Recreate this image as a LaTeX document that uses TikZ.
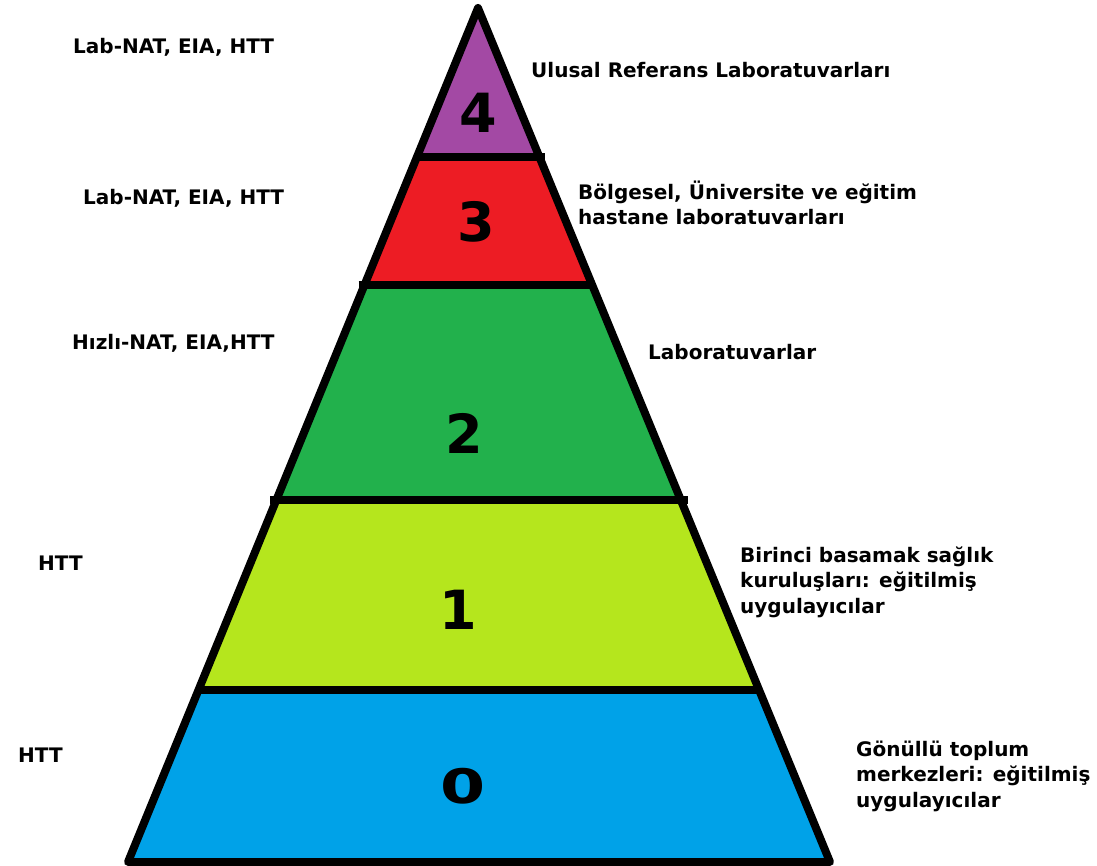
\documentclass[tikz,border=0pt]{standalone}
\usepackage{fontspec}
\setmainfont{DejaVu Sans}[BoldFont={DejaVu Sans Bold}]
\definecolor{tierfour}{HTML}{A349A4}
\definecolor{tierthree}{HTML}{ED1C24}
\definecolor{tiertwo}{HTML}{22B14C}
\definecolor{tierone}{HTML}{B5E61D}
\definecolor{tierzero}{HTML}{00A2E8}
\begin{document}
\begin{tikzpicture}[x=1pt,y=-1pt,
  outline/.style={line width=8pt,line join=round},
  divider/.style={line width=8pt},
  digit/.style={font=\fontsize{54}{54}\selectfont\bfseries},
  label/.style={anchor=west,align=left,inner sep=0pt,
    font=\fontsize{20}{25.5}\selectfont\bfseries}]
\useasboundingbox (0,0) rectangle (1097,866);
% pyramid corners and tier edges
\coordinate (apex) at (478,8);
\coordinate (bl) at (128,862);
\coordinate (br) at (830,862);
\coordinate (l1) at (416.9,157); \coordinate (r1) at (539.4,157);
\coordinate (l2) at (364.5,285); \coordinate (r2) at (592.2,285);
\coordinate (l3) at (276.4,500); \coordinate (r3) at (680.8,500);
\coordinate (l4) at (198.5,690); \coordinate (r4) at (759.1,690);
% tier fills
\fill[tierfour] (apex) -- (r1) -- (l1) -- cycle;
\fill[tierthree] (l1) -- (r1) -- (r2) -- (l2) -- cycle;
\fill[tiertwo] (l2) -- (r2) -- (r3) -- (l3) -- cycle;
\fill[tierone] (l3) -- (r3) -- (r4) -- (l4) -- cycle;
\fill[tierzero] (l4) -- (r4) -- (br) -- (bl) -- cycle;
% dividers and outline
\draw[divider] ([xshift=-2pt]l1) -- ([xshift=6pt]r1);
\draw[divider] ([xshift=-6pt]l2) -- ([xshift=2pt]r2);
\draw[divider] ([xshift=-6pt]l3) -- ([xshift=7pt]r3);
\draw[divider] ([xshift=-2pt]l4) -- ([xshift=2pt]r4);
\draw[outline] (apex) -- (br) -- (bl) -- cycle;
% tier numbers
\node[digit] (n4) at (478,113) {4};
\node[digit] (n3) at (476,222) {3};
\node[digit] (n2) at (464,433) {2};
\node[digit] (n1) at (458,610) {1};
\node[digit] (n0) at (463,786) {\scalebox{1.2}[0.88]{0}};
% left labels
\node[label] (a4) at (73,47) {Lab-NAT, EIA, HTT};
\node[label] (a3) at (83,198) {Lab-NAT, EIA, HTT};
\node[label] (a2) at (72,343) {Hızlı-NAT, EIA,HTT};
\node[label] (a1) at (38,563) {HTT};
\node[label] (a0) at (18,755) {HTT};
% right labels
\node[label] (b4) at (531,70) {Ulusal Referans Laboratuvarları};
\node[label] (b3) at (578,203) {Bölgesel, Üniversite ve eğitim\\hastane laboratuvarları};
\node[label] (b2) at (648,352) {Laboratuvarlar};
\node[label] (b1) at (740,582) {Birinci basamak sağlık\\kuruluşları: eğitilmiş\\uygulayıcılar};
\node[label] (b0) at (856,776) {Gönüllü toplum\\merkezleri: eğitilmiş\\uygulayıcılar};
\end{tikzpicture}
\end{document}
